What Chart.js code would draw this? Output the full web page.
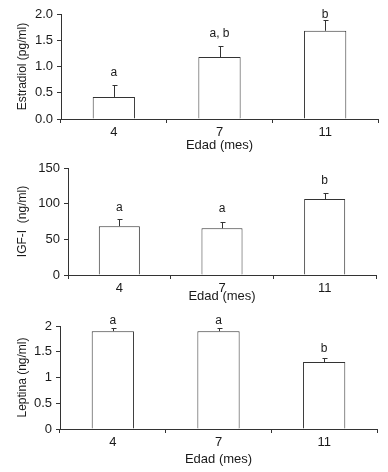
<!DOCTYPE html>
<html>
<head>
<meta charset="utf-8">
<script src="https://cdn.jsdelivr.net/npm/chart.js@4"></script>
<style>
  body { margin: 0; background: #fff; }
  #wrap { position: relative; width: 388px; height: 472px; }
  canvas { position: absolute; left: 0; }
</style>
</head>
<body>
<div id="wrap">
  <canvas id="c1" width="388" height="155" style="top:0px"></canvas>
  <canvas id="c2" width="388" height="150" style="top:155px"></canvas>
  <canvas id="c3" width="388" height="167" style="top:305px"></canvas>
</div>
<script>
// months of age
const ages = ['4', '7', '11'];

// estradiol (pg/ml), mean and SEM
const estradiolMean = [0.42, 1.18, 1.68];
const estradiolSem = [0.22, 0.21, 0.21];
const estradiolLetters = ['a', 'a, b', 'b'];

// IGF-I (ng/ml)
const igfMean = [68.5, 65.5, 106.5];
const igfSem = [9.5, 8.5, 9];
const igfLetters = ['a', 'a', 'b'];

// leptina (ng/ml)
const leptinaMean = [1.9, 1.9, 1.3];
const leptinaSem = [0.065, 0.065, 0.07];
const leptinaLetters = ['a', 'a', 'b'];

const textColor = '#1a1a1a';
const lineColor = '#333';
const fontFam = '"Liberation Sans", Arial, sans-serif';

// error bars (upper half only) + significance letters
const errLetters = {
  id: 'errLetters',
  afterDatasetsDraw(chart, args, opts) {
    const ctx = chart.ctx;
    const meta = chart.getDatasetMeta(0);
    const y = chart.scales.y;
    ctx.save();
    ctx.strokeStyle = lineColor;
    ctx.lineWidth = 1;
    ctx.fillStyle = textColor;
    ctx.font = '12px ' + fontFam;
    ctx.textAlign = 'center';
    ctx.textBaseline = 'middle';
    meta.data.forEach((bar, i) => {
      const x = Math.round(bar.x) + 0.5;
      const yBar = y.getPixelForValue(opts.mean[i]);
      const yTop = Math.round(y.getPixelForValue(opts.mean[i] + opts.sem[i])) + 0.5;
      ctx.beginPath();
      ctx.moveTo(x, yBar);
      ctx.lineTo(x, yTop);
      ctx.moveTo(x - 2, yTop);
      ctx.lineTo(x + 3, yTop);
      ctx.stroke();
      ctx.fillText(opts.letters[i], bar.x, yTop - opts.gap[i]);
    });
    ctx.restore();
  }
};

function makePanel(id, cfg) {
  new Chart(document.getElementById(id), {
    type: 'bar',
    data: {
      labels: ages,
      datasets: [{
        data: cfg.mean,
        backgroundColor: '#fff',
        borderColor: lineColor,
        borderWidth: 1,
        borderSkipped: 'bottom',
        categoryPercentage: 1,
        barPercentage: 0.4
      }]
    },
    options: {
      responsive: false,
      animation: false,
      layout: { padding: { top: cfg.padTop, right: cfg.padRight, left: 0, bottom: 0 } },
      plugins: {
        legend: { display: false },
        tooltip: { enabled: false },
        errLetters: { mean: cfg.mean, sem: cfg.sem, letters: cfg.letters, gap: cfg.gap }
      },
      scales: {
        x: {
          afterFit: s => { s.height = cfg.xHeight; },
          grid: { offset: true, drawOnChartArea: false, tickLength: 4, color: lineColor },
          border: { color: lineColor },
          ticks: { color: textColor, padding: 2, font: { family: fontFam, size: 13 } },
          title: {
            display: true, text: 'Edad (mes)', color: textColor,
            font: { family: fontFam, size: 13 },
            padding: { top: 0, bottom: cfg.xTitlePad }
          }
        },
        y: {
          min: 0, max: cfg.max,
          afterFit: s => { s.width = cfg.axisX; },
          grid: { drawOnChartArea: false, tickLength: 4, color: lineColor },
          border: { color: lineColor },
          ticks: {
            stepSize: cfg.step, color: textColor, padding: 4,
            font: { family: fontFam, size: 13 },
            callback: cfg.fmt
          },
          title: {
            display: true, text: cfg.title, color: textColor,
            font: { family: fontFam, size: 12 },
            padding: { top: 15, bottom: 0 }
          }
        }
      }
    },
    plugins: [errLetters]
  });
}

makePanel('c1', {
  mean: estradiolMean, sem: estradiolSem, letters: estradiolLetters, gap: [13, 13, 6],
  title: 'Estradiol (pg/ml)', max: 2, step: 0.5, fmt: v => v.toFixed(1),
  padTop: 14, padRight: 10, axisX: 61, xHeight: 36, xTitlePad: 1.5
});
makePanel('c2', {
  mean: igfMean, sem: igfSem, letters: igfLetters, gap: [12, 14, 13],
  title: 'IGF-I  (ng/ml)', max: 150, step: 50, fmt: v => v,
  padTop: 13, padRight: 12, axisX: 68, xHeight: 30, xTitlePad: 0.5
});
makePanel('c3', {
  mean: leptinaMean, sem: leptinaSem, letters: leptinaLetters, gap: [8, 8, 10],
  title: 'Leptina (ng/ml)', max: 2, step: 0.5, fmt: v => v,
  padTop: 21, padRight: 11, axisX: 60, xHeight: 43, xTitlePad: 5
});
</script>
</body>
</html>
